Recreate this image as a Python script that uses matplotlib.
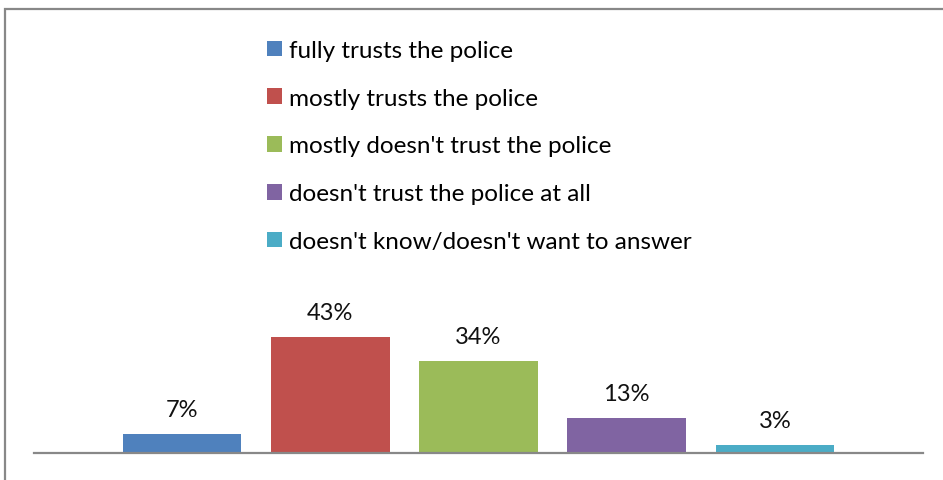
import matplotlib.pyplot as plt
from matplotlib.patches import Rectangle

plt.rcParams['font.family'] = ['Lato', 'DejaVu Sans']

answers = [
    'fully trusts the police',
    'mostly trusts the police',
    "mostly doesn't trust the police",
    "doesn't trust the police at all",
    "doesn't know/doesn't want to answer",
]
shares = [7, 43, 34, 13, 3]
colors = ['#4F81BD', '#C0504D', '#9BBB59', '#8064A2', '#4BACC6']

W, H = 943, 481
fig = plt.figure(figsize=(W / 100, H / 100), dpi=100)

# outer chart frame (runs off the right and bottom edges)
fig.patches.append(Rectangle((5 / W, -0.1), 1.1, 1 - 10 / H + 0.1,
                             transform=fig.transFigure, fill=False,
                             edgecolor='#888888', linewidth=1.6))

ax = fig.add_axes([34 / W, (H - 454) / H, 889 / W, 135 / H])
xs = range(1, len(shares) + 1)
bars = ax.bar(xs, shares, width=0.8, color=colors)
ax.set_xlim(0, 6)
ax.set_ylim(0, 50)

for x, v in zip(xs, shares):
    ax.annotate(f'{v}%', (x, v), xytext=(0, 10), textcoords='offset points',
                ha='center', va='bottom', fontsize=17, color='#111111')

for side in ['top', 'right', 'left']:
    ax.spines[side].set_visible(False)
ax.spines['bottom'].set_color('#888888')
ax.spines['bottom'].set_linewidth(1.6)
ax.set_xticks([])
ax.set_yticks([])

fig.legend(bars, answers, loc='upper left',
           bbox_to_anchor=(267 / W, 1 - 41 / H), frameon=False,
           fontsize=17.5, handlelength=0.62, handleheight=0.62,
           handletextpad=0.3, labelspacing=1.1, borderaxespad=0,
           borderpad=0)

fig.savefig('out.png', dpi=100)
